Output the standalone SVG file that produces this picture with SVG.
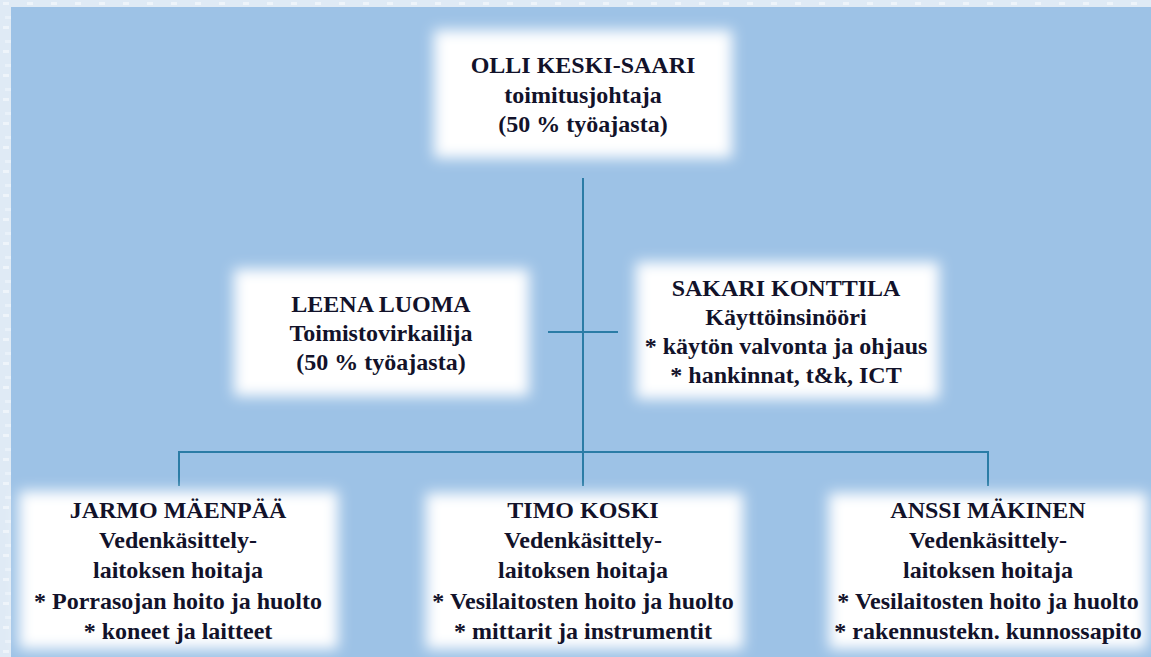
<svg xmlns="http://www.w3.org/2000/svg" width="1151" height="657" viewBox="0 0 1151 657">
<defs>
<filter id="glow" x="-15%" y="-25%" width="130%" height="150%">
<feGaussianBlur stdDeviation="7"/>
</filter>
<pattern id="tex" width="24" height="24" patternUnits="userSpaceOnUse">
<rect width="24" height="24" fill="#dfeaf5"/>
<rect x="3" y="2" width="6" height="3" fill="#eef4fa"/>
<rect x="14" y="9" width="7" height="3" fill="#d2e1f0"/>
<rect x="5" y="16" width="8" height="3" fill="#e9f1f9"/>
<rect x="17" y="19" width="4" height="3" fill="#d6e4f2"/>
</pattern>
</defs>
<rect width="1151" height="657" fill="url(#tex)"/>
<rect x="11" y="7" width="1140" height="650" fill="#9dc2e6"/>
<g id="connectors" stroke="#2b7ca6" stroke-width="2" fill="none">
<line x1="583" y1="178" x2="583" y2="486"/>
<line x1="548" y1="332" x2="618" y2="332"/>
<path d="M179 486V452H988V486"/>
</g>
<g id="nodes" font-family="Liberation Serif, serif" font-weight="bold" font-size="24" fill="#12122a" text-anchor="middle">
<g id="olli">
<rect x="434" y="30" width="298" height="128" fill="#fff" filter="url(#glow)"/>
<text x="583" y="73">OLLI KESKI-SAARI</text>
<text x="583" y="103">toimitusjohtaja</text>
<text x="583" y="132">(50 % työajasta)</text>
</g>
<g id="leena">
<rect x="234" y="269" width="295" height="127" fill="#fff" filter="url(#glow)"/>
<text x="381" y="312">LEENA LUOMA</text>
<text x="381" y="341">Toimistovirkailija</text>
<text x="381" y="370">(50 % työajasta)</text>
</g>
<g id="sakari">
<rect x="636" y="262" width="303" height="137" fill="#fff" filter="url(#glow)"/>
<text x="786" y="296">SAKARI KONTTILA</text>
<text x="786" y="325">Käyttöinsinööri</text>
<text x="786" y="354">* käytön valvonta ja ohjaus</text>
<text x="786" y="383">* hankinnat, t&amp;k, ICT</text>
</g>
<g id="jarmo">
<rect x="19" y="491" width="319" height="158" fill="#fff" filter="url(#glow)"/>
<text x="178" y="518">JARMO MÄENPÄÄ</text>
<text x="178" y="548">Vedenkäsittely-</text>
<text x="178" y="578">laitoksen hoitaja</text>
<text x="178" y="609">* Porrasojan hoito ja huolto</text>
<text x="178" y="639">* koneet ja laitteet</text>
</g>
<g id="timo">
<rect x="426" y="493" width="317" height="156" fill="#fff" filter="url(#glow)"/>
<text x="583" y="518">TIMO KOSKI</text>
<text x="583" y="548">Vedenkäsittely-</text>
<text x="583" y="578">laitoksen hoitaja</text>
<text x="583" y="609">* Vesilaitosten hoito ja huolto</text>
<text x="583" y="639">* mittarit ja instrumentit</text>
</g>
<g id="anssi">
<rect x="829" y="493" width="318" height="156" fill="#fff" filter="url(#glow)"/>
<text x="988" y="518">ANSSI MÄKINEN</text>
<text x="988" y="548">Vedenkäsittely-</text>
<text x="988" y="578">laitoksen hoitaja</text>
<text x="988" y="609">* Vesilaitosten hoito ja huolto</text>
<text x="988" y="639">* rakennustekn. kunnossapito</text>
</g>
</g>
</svg>
